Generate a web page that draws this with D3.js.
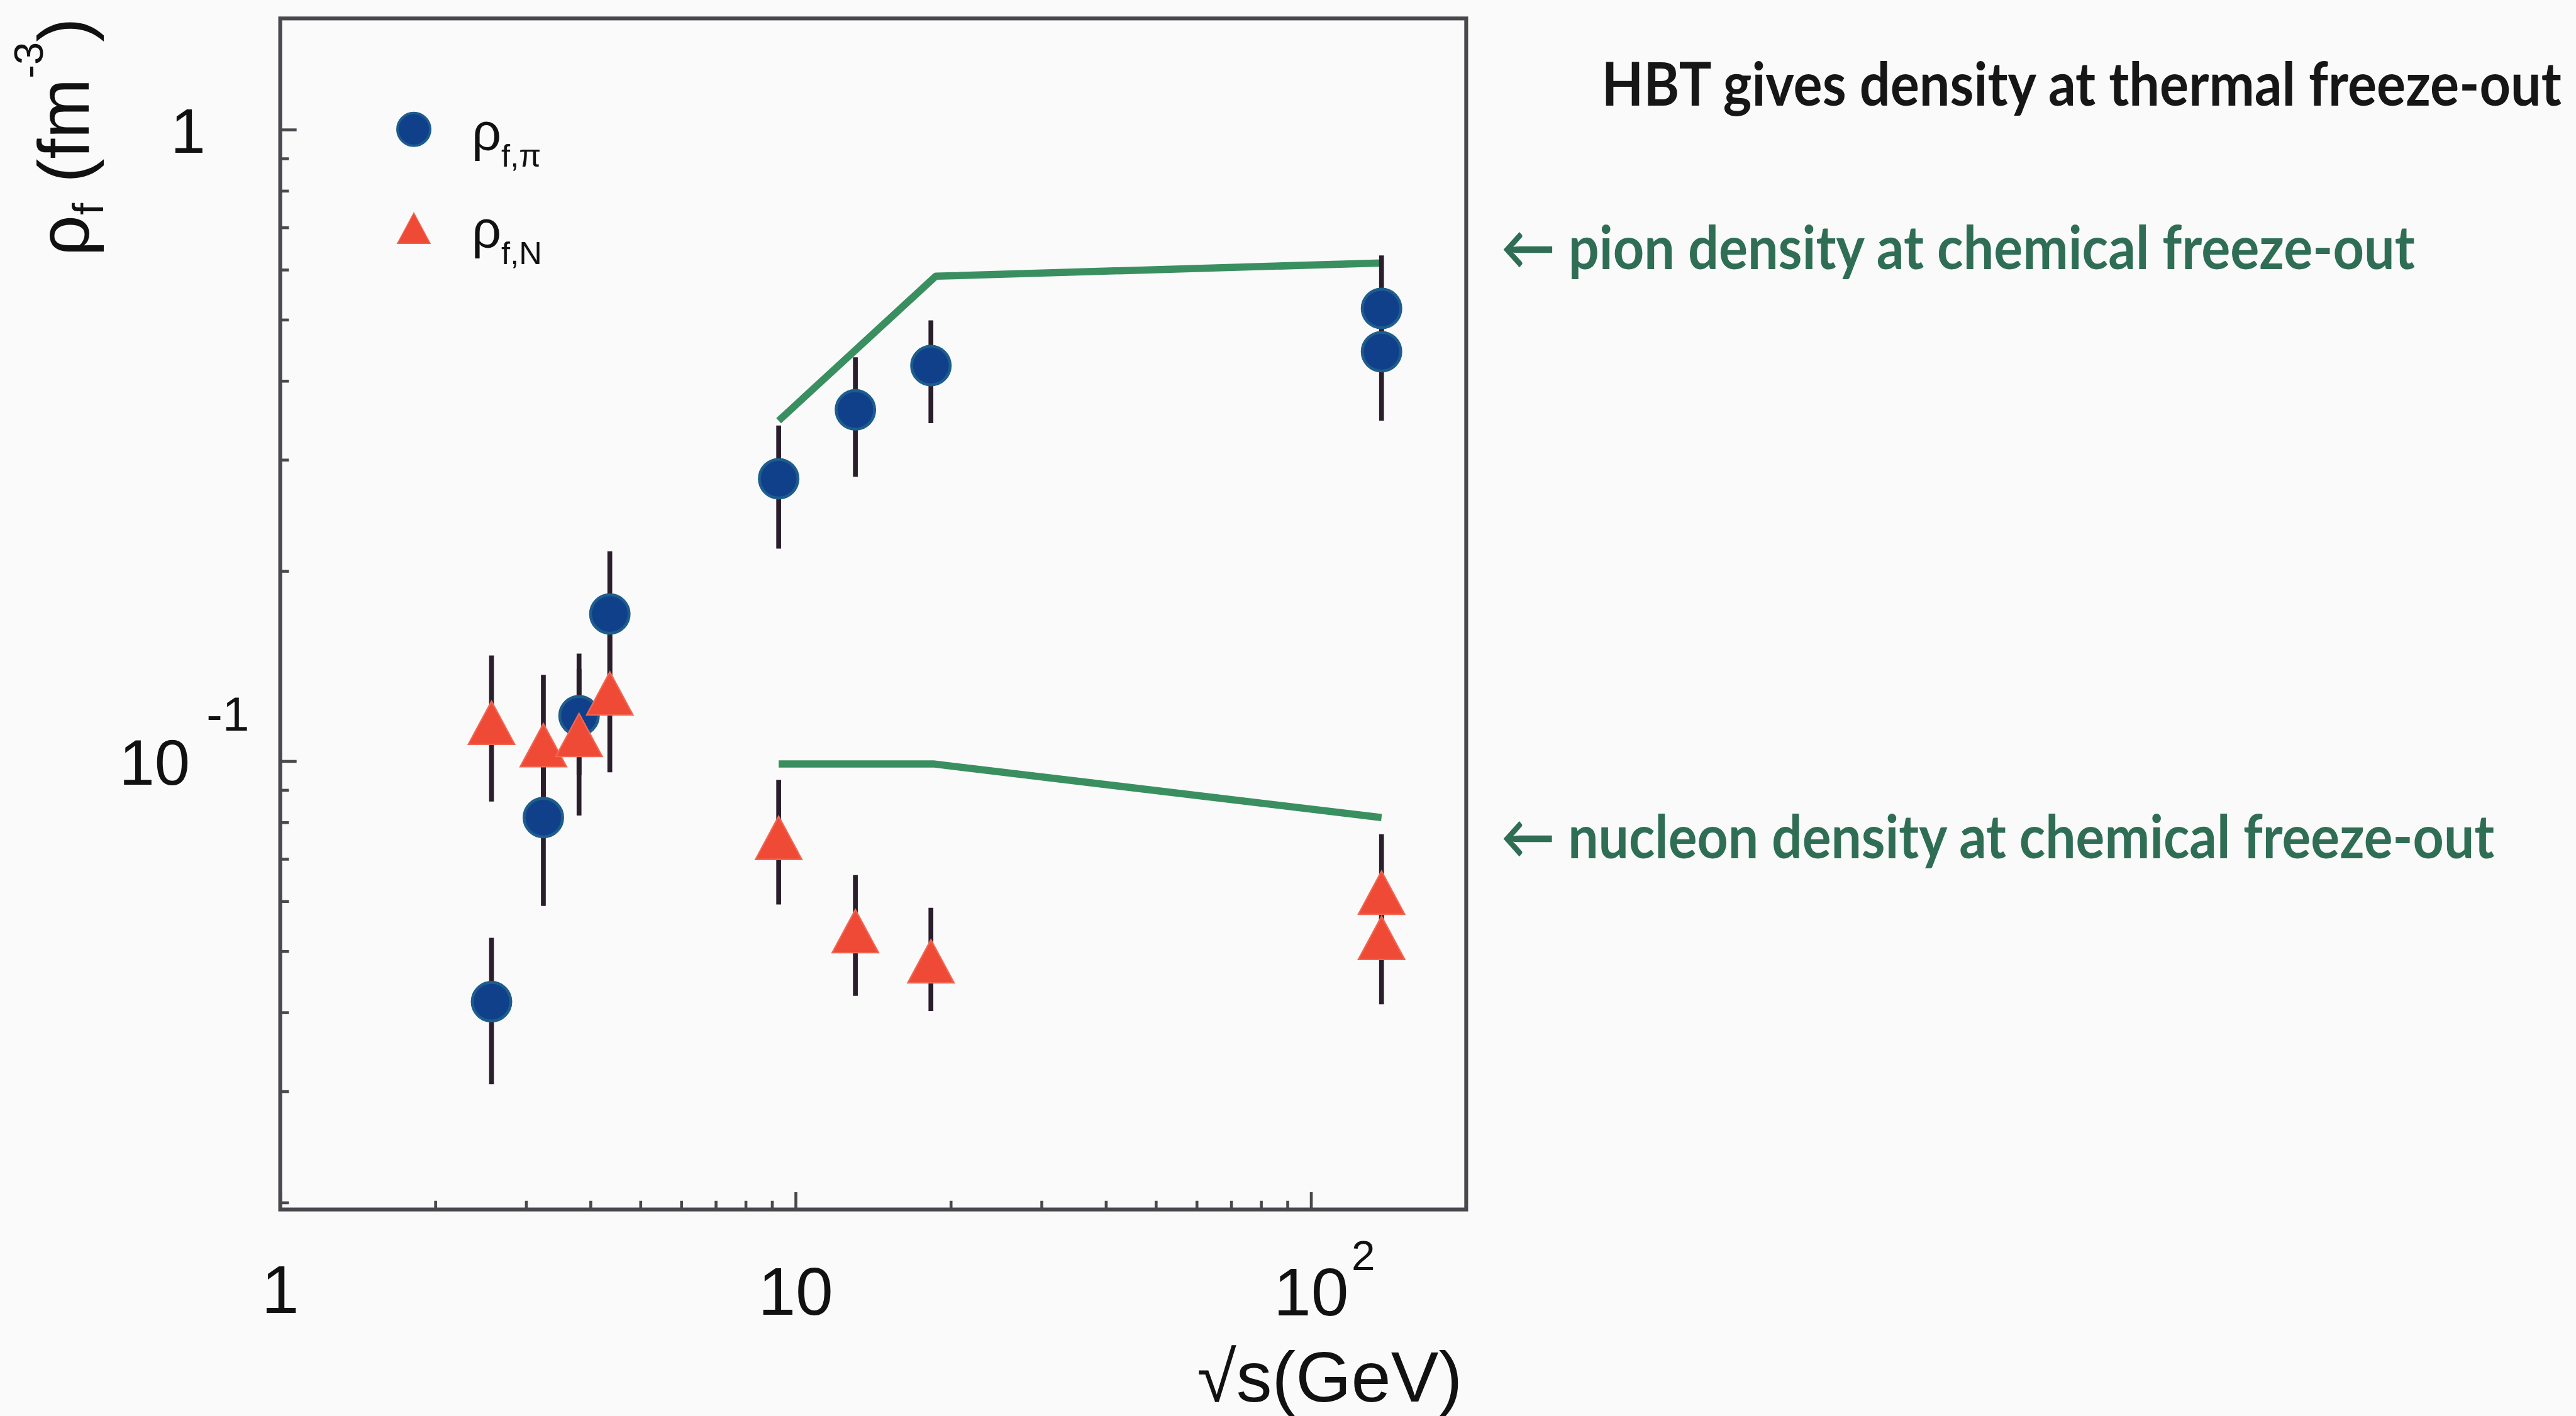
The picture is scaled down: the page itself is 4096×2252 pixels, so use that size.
<!DOCTYPE html>
<html>
<head>
<meta charset="utf-8">
<script src="https://cdn.jsdelivr.net/npm/d3@7/dist/d3.min.js"></script>
<style>
html, body { margin: 0; padding: 0; background: #fafafa; overflow: hidden; }
svg { display: block; }
</style>
</head>
<body>
<svg id="chart"></svg>
<script>
// sqrt(s) in GeV, same energies for both species
var energies    = [2.57, 3.24, 3.80, 4.36, 9.27, 13.06, 18.3, 137, 137];

// pion freeze-out density (fm^-3) with error range
var pionDensity = [0.0416, 0.0814, 0.118, 0.171, 0.280, 0.360, 0.423, 0.521, 0.445];
var pionLow     = [0.0308, 0.059, 0.095, 0.135, 0.217, 0.282, 0.343, 0.430, 0.346];
var pionHigh    = [0.0525, 0.104, 0.148, 0.215, 0.340, 0.436, 0.499, 0.632, 0.540];

// nucleon freeze-out density
var nucDensity  = [0.115, 0.106, 0.110, 0.128, 0.0756, 0.0538, 0.0482, 0.0619, 0.0525];
var nucLow      = [0.0863, 0.083, 0.082, 0.096, 0.0593, 0.0425, 0.0402, 0.050, 0.0412];
var nucHigh     = [0.147, 0.137, 0.140, 0.160, 0.0934, 0.066, 0.0586, 0.0766, 0.065];

// chemical freeze-out curves
var pionChemX   = [9.27, 18.7, 137];
var pionChemY   = [0.346, 0.586, 0.615];
var nucChemX    = [9.27, 18.5, 137];
var nucChemY    = [0.099, 0.099, 0.0814];

var xMajor = [1, 10, 100];
var yMajor = [0.1, 1];

var noteTitle   = "HBT gives density at thermal freeze-out";
var notePion    = "\u2190 pion density at chemical freeze-out";
var noteNucleon = "\u2190 nucleon density at chemical freeze-out";

function draw() {
    // everything is laid out in the reference's pixel space and scaled by the viewBox
    var W = 5341, H = 2936;
    var svg = d3.select("#chart")
        .attr("width", 4096)
        .attr("height", 2252)
        .attr("viewBox", "0 0 " + W + " " + H);

    svg.append("rect").attr("width", W).attr("height", H).attr("fill", "#fafafa");

    var plotLeft = 581, plotRight = 3040, plotTop = 38, plotBottom = 2508;

    var x = d3.scaleLog().domain([1, 200]).range([plotLeft, plotRight]);
    var y = d3.scaleLog().domain([0.0195, 1.5]).range([plotBottom, plotTop]);

    var axisColor = "#48484e";
    var font = "'Liberation Sans', Arial, Helvetica, sans-serif";

    // minor ticks
    var xMinor = x.ticks().filter(function(v) { return xMajor.indexOf(v) < 0 && v < 200; });
    var yMinor = y.ticks().filter(function(v) { return yMajor.indexOf(v) < 0 && v < 1.5; });

    function styleAxis(g) {
        g.select(".domain").remove();
        g.selectAll(".tick line").attr("stroke", axisColor).attr("stroke-width", 6);
        g.selectAll(".tick text").remove();
    }

    svg.append("g")
        .attr("transform", "translate(0," + plotBottom + ")")
        .call(d3.axisBottom(x).tickValues(xMinor).tickSize(-18).tickFormat(""))
        .call(styleAxis);
    svg.append("g")
        .attr("transform", "translate(0," + plotBottom + ")")
        .call(d3.axisBottom(x).tickValues(xMajor).tickSize(-36).tickFormat(""))
        .call(styleAxis);
    svg.append("g")
        .attr("transform", "translate(" + plotLeft + ",0)")
        .call(d3.axisLeft(y).tickValues(yMinor).tickSize(-18).tickFormat(""))
        .call(styleAxis);
    svg.append("g")
        .attr("transform", "translate(" + plotLeft + ",0)")
        .call(d3.axisLeft(y).tickValues(yMajor).tickSize(-34).tickFormat(""))
        .call(styleAxis);

    // frame
    svg.append("rect")
        .attr("x", plotLeft).attr("y", plotTop)
        .attr("width", plotRight - plotLeft).attr("height", plotBottom - plotTop)
        .attr("fill", "none")
        .attr("stroke", axisColor)
        .attr("stroke-width", 8);

    // x tick labels
    var xLab = svg.append("g").attr("font-family", font).attr("fill", "#111");
    xLab.append("text").attr("x", x(1)).attr("y", 2722)
        .attr("text-anchor", "middle").attr("font-size", 140).text("1");
    xLab.append("text").attr("x", x(10)).attr("y", 2726)
        .attr("text-anchor", "middle").attr("font-size", 140).text("10");
    xLab.append("text").attr("x", x(100)).attr("y", 2728)
        .attr("text-anchor", "middle").attr("font-size", 140).text("10");
    xLab.append("text").attr("x", x(100) + 84).attr("y", 2634)
        .attr("font-size", 88).text("2");

    // y tick labels
    var yLab = svg.append("g").attr("font-family", font).attr("fill", "#111");
    yLab.append("text").attr("x", 390).attr("y", y(1) + 48)
        .attr("text-anchor", "middle").attr("font-size", 130).text("1");
    yLab.append("text").attr("x", 247).attr("y", y(0.1) + 49)
        .attr("font-size", 132).text("10");
    yLab.append("text").attr("x", 428).attr("y", y(0.1) - 63)
        .attr("font-size", 100).text("-1");

    // axis titles
    svg.append("text")
        .attr("x", 3032).attr("y", 2906)
        .attr("text-anchor", "end")
        .attr("font-family", font).attr("font-size", 148).attr("fill", "#111")
        .text("\u221As(GeV)");

    var yt = svg.append("text")
        .attr("transform", "translate(184,531) rotate(-90)")
        .attr("font-family", font).attr("font-size", 150).attr("fill", "#111");
    yt.append("tspan").text("\u03C1");
    yt.append("tspan").attr("font-size", 90).attr("dy", 30).text("f");
    yt.append("tspan").attr("dy", -30).text(" (fm");
    yt.append("tspan").attr("font-size", 85).attr("dy", -95).text("-3");
    yt.append("tspan").attr("dy", 95).text(")");

    // chemical freeze-out lines
    var line = d3.line()
        .x(function(d) { return x(d[0]); })
        .y(function(d) { return y(d[1]); });
    var green = "#3a8f60";
    svg.append("path")
        .datum(d3.zip(pionChemX, pionChemY))
        .attr("d", line)
        .attr("fill", "none").attr("stroke", green).attr("stroke-width", 15)
        .attr("stroke-linejoin", "round");
    svg.append("path")
        .datum(d3.zip(nucChemX, nucChemY))
        .attr("d", line)
        .attr("fill", "none").attr("stroke", green).attr("stroke-width", 15)
        .attr("stroke-linejoin", "round");

    // data
    var pions = energies.map(function(e, i) {
        return { x: e, y: pionDensity[i], lo: pionLow[i], hi: pionHigh[i] };
    });
    var nucleons = energies.map(function(e, i) {
        return { x: e, y: nucDensity[i], lo: nucLow[i], hi: nucHigh[i] };
    });

    var barColor = "#2a1e2c";
    svg.append("g").selectAll("line")
        .data(pions.concat(nucleons))
        .enter().append("line")
        .attr("x1", function(d) { return x(d.x); })
        .attr("x2", function(d) { return x(d.x); })
        .attr("y1", function(d) { return y(d.lo); })
        .attr("y2", function(d) { return y(d.hi); })
        .attr("stroke", barColor).attr("stroke-width", 10);

    // triangle marker centred on its bounding box; size = base width
    var triangleUp = {
        draw: function(ctx, size) {
            var h = size * 0.93;
            ctx.moveTo(0, -h / 2);
            ctx.lineTo(size / 2, h / 2);
            ctx.lineTo(-size / 2, h / 2);
            ctx.closePath();
        }
    };

    var blue = "#11408a", blueEdge = "#1d5d8e";
    var red = "#ee4a36", redEdge = "#f26652";

    svg.append("g").selectAll("circle")
        .data(pions)
        .enter().append("circle")
        .attr("cx", function(d) { return x(d.x); })
        .attr("cy", function(d) { return y(d.y); })
        .attr("r", 40)
        .attr("fill", blue).attr("stroke", blueEdge).attr("stroke-width", 6);

    svg.append("g").selectAll("path")
        .data(nucleons)
        .enter().append("path")
        .attr("transform", function(d) { return "translate(" + x(d.x) + "," + y(d.y) + ")"; })
        .attr("d", d3.symbol().type(triangleUp).size(96))
        .attr("fill", red).attr("stroke", redEdge).attr("stroke-width", 3);

    // legend
    var leg = svg.append("g").attr("font-family", font).attr("fill", "#111");
    leg.append("circle").attr("cx", 858).attr("cy", 268).attr("r", 34)
        .attr("fill", blue).attr("stroke", blueEdge).attr("stroke-width", 5);
    leg.append("path").attr("transform", "translate(858,473)")
        .attr("d", d3.symbol().type(triangleUp).size(68))
        .attr("fill", red).attr("stroke", redEdge).attr("stroke-width", 2);
    var l1 = leg.append("text").attr("x", 978).attr("y", 312).attr("font-size", 108);
    l1.append("tspan").text("\u03C1");
    l1.append("tspan").attr("font-size", 66).attr("dy", 33).text("f,\u03C0");
    var l2 = leg.append("text").attr("x", 978).attr("y", 514).attr("font-size", 108);
    l2.append("tspan").text("\u03C1");
    l2.append("tspan").attr("font-size", 66).attr("dy", 33).text("f,N");

    // annotations on the right, squeezed horizontally to the reference widths
    var noteFont = "Lato, 'Open Sans', sans-serif";
    function note(str, x0, y0, width, color) {
        var t = svg.append("text")
            .attr("font-family", noteFont).attr("font-weight", 700).attr("font-size", 125)
            .attr("fill", color)
            .text(str);
        var natural = t.node().getComputedTextLength();
        var sx = width / natural;
        t.attr("transform", "translate(" + x0 + "," + y0 + ") scale(" + sx + ",1)");
    }
    note(noteTitle, 3321, 219, 1990, "#161616");
    note(notePion, 3112, 558, 1895, "#2f6e55");
    note(noteNucleon, 3112, 1780, 2060, "#2f6e55");
}

draw();
</script>
</body>
</html>
